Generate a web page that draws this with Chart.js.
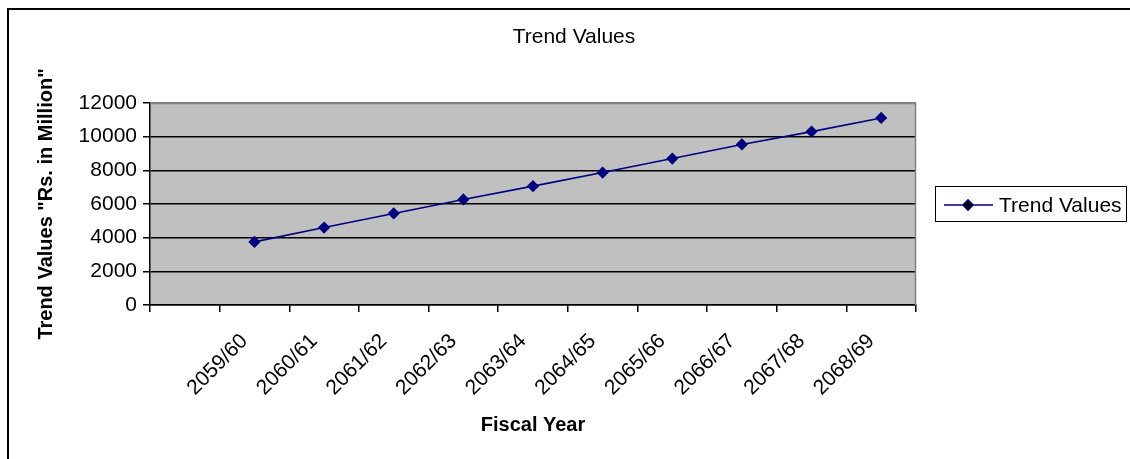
<!DOCTYPE html>
<html>
<head>
<meta charset="utf-8">
<script src="https://cdn.jsdelivr.net/npm/chart.js@4"></script>
<style>
  html, body { margin: 0; padding: 0; background: #fff; }
  #wrap { width: 1130px; height: 459px; }
</style>
</head>
<body>
<div id="wrap"><canvas id="trend-chart"></canvas></div>
<script>
const fiscalYears = ["", "2059/60", "2060/61", "2061/62", "2062/63", "2063/64",
                     "2064/65", "2065/66", "2066/67", "2067/68", "2068/69"]
const trendValues = [null, 3750, 4600, 5440, 6270, 7060, 7870, 8700, 9540, 10300, 11110]
const yTicks = [0, 2000, 4000, 6000, 8000, 10000, 12000]

const navy = "#000080"
const ctx = document.getElementById("trend-chart")

Chart.defaults.font.family = "'Liberation Sans', Arial, sans-serif"
Chart.defaults.color = "#000"

// grey plot background, grey top/right frame, outer border and the boxed legend
const frame = {
    id: "frame",
    beforeDraw(chart) {
        const { ctx, chartArea: a } = chart
        ctx.save()
        ctx.fillStyle = "#fff"
        ctx.fillRect(0, 0, chart.width, chart.height)
        ctx.fillStyle = "#c0c0c0"
        ctx.fillRect(a.left, a.top, a.right - a.left, a.bottom - a.top)
        ctx.restore()
    },
    beforeDatasetsDraw(chart) {
        const { ctx, chartArea: a } = chart
        ctx.save()
        ctx.strokeStyle = "#808080"
        ctx.lineWidth = 1.5
        ctx.beginPath()
        ctx.moveTo(a.left, a.top + 0.5)
        ctx.lineTo(a.right - 0.5, a.top + 0.5)
        ctx.lineTo(a.right - 0.5, a.bottom)
        ctx.stroke()
        ctx.restore()
    },
    afterDraw(chart) {
        const ctx = chart.ctx
        const ds = chart.data.datasets[0]
        ctx.save()
        // outer border
        ctx.strokeStyle = "#000"
        ctx.lineWidth = 2
        ctx.strokeRect(8, 9, 1400, 800)
        // legend box
        ctx.lineWidth = 1
        ctx.strokeRect(935.5, 186.5, 191, 35)
        ctx.strokeStyle = ds.borderColor
        ctx.lineWidth = ds.borderWidth
        ctx.beginPath()
        ctx.moveTo(944, 205)
        ctx.lineTo(993, 205)
        ctx.stroke()
        Chart.helpers.drawPoint(ctx, {
            pointStyle: ds.pointStyle,
            radius: ds.pointRadius,
            borderWidth: 1
        }, 968, 205)
        ctx.fillStyle = "#000"
        ctx.font = "21px 'Liberation Sans', Arial, sans-serif"
        ctx.textBaseline = "middle"
        ctx.fillText(ds.label, 999, 206)
        ctx.restore()
    }
}

new Chart(ctx, {
    type: "line",
    data: {
        labels: fiscalYears,
        datasets: [{
            label: "Trend Values",
            data: trendValues,
            borderColor: navy,
            backgroundColor: navy,
            borderWidth: 1.6,
            pointStyle: "rectRot",
            pointRadius: 5,
            pointBorderColor: navy,
            pointBackgroundColor: navy,
            tension: 0
        }]
    },
    options: {
        responsive: true,
        maintainAspectRatio: false,
        animation: false,
        layout: { padding: { left: 18, right: 0, top: 0, bottom: 0 } },
        plugins: {
            legend: { display: false },
            tooltip: { enabled: false },
            title: {
                display: true,
                text: "Trend Values",
                color: "#000",
                font: { size: 21, weight: "normal" },
                padding: { top: 24.4, bottom: 53.4 }
            }
        },
        scales: {
            x: {
                type: "category",
                offset: true,
                grid: {
                    offset: true,
                    drawOnChartArea: false,
                    drawTicks: true,
                    tickLength: 7,
                    lineWidth: 1.5,
                    color: "#000"
                },
                border: { color: "#000", width: 1.5 },
                ticks: {
                    autoSkip: false,
                    maxRotation: 45,
                    minRotation: 45,
                    padding: 17,
                    labelOffset: -10,
                    font: { size: 21 },
                    color: "#000"
                },
                title: {
                    display: true,
                    text: "Fiscal Year",
                    color: "#000",
                    font: { size: 20, weight: "bold" },
                    padding: { top: 0, bottom: 22 }
                },
                afterFit(scale) { scale.height = 154 }
            },
            y: {
                min: 0,
                max: 12000,
                afterBuildTicks(scale) { scale.ticks = yTicks.map(v => ({ value: v })) },
                grid: {
                    color: c => (c.tick && c.tick.value === 12000) ? "#808080" : "#000",
                    tickColor: "#000",
                    tickLength: 7,
                    lineWidth: 1.5
                },
                border: { color: "#000", width: 1.5 },
                ticks: {
                    padding: 6,
                    font: { size: 21 },
                    color: "#000",
                    callback: v => String(v)
                },
                title: {
                    display: true,
                    text: "Trend Values \"Rs. in Million\"",
                    color: "#000",
                    font: { size: 20, weight: "bold" },
                    padding: { top: 16, bottom: 0 }
                },
                afterFit(scale) { scale.width = 132 }
            },
            side: {
                position: "right",
                display: true,
                grid: { display: false },
                border: { display: false },
                ticks: { display: false },
                afterFit(scale) { scale.width = 214 }
            }
        }
    },
    plugins: [frame]
})
</script>
</body>
</html>
